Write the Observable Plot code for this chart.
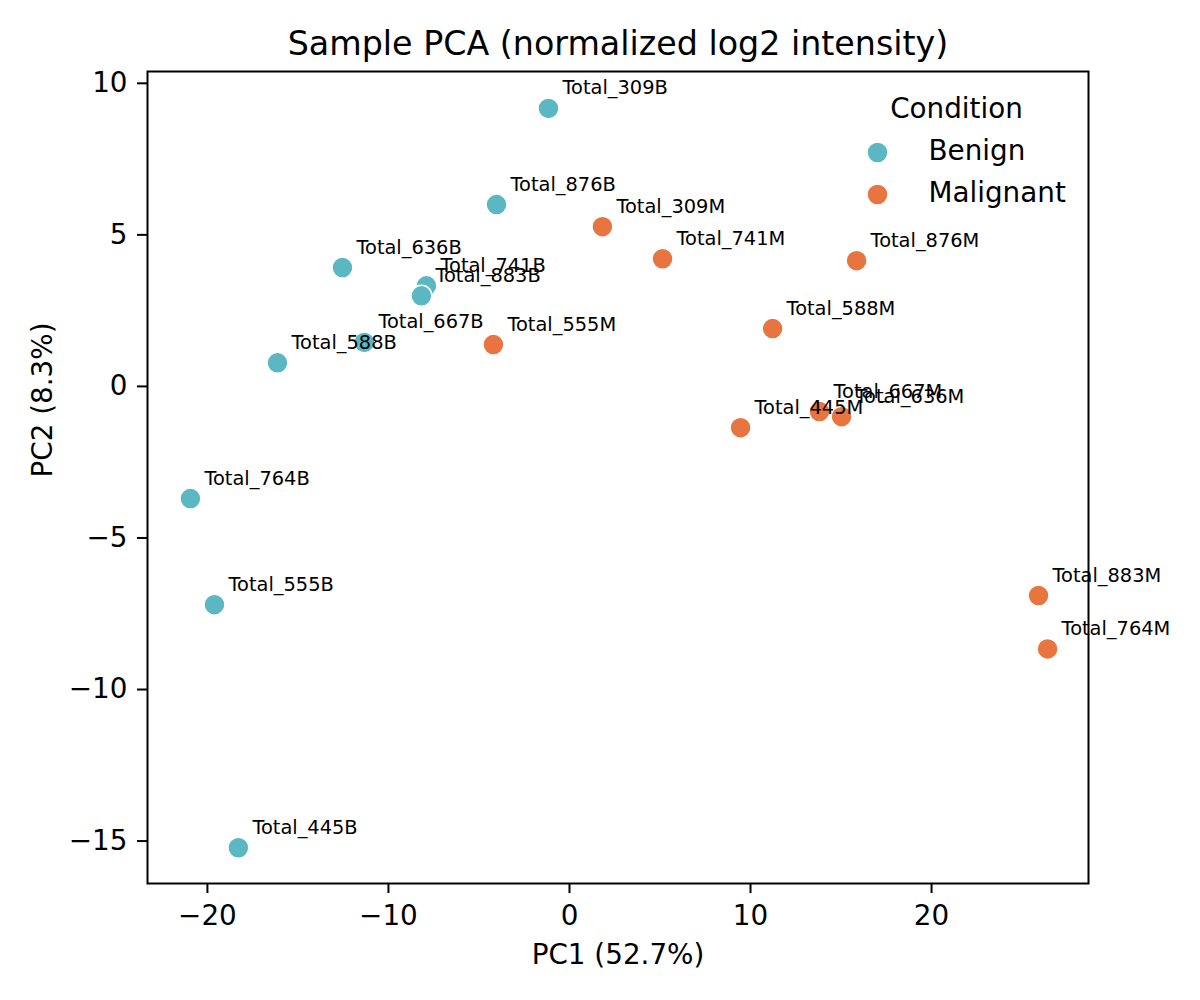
<!DOCTYPE html>
<html>
<head>
<meta charset="utf-8">
<script src="https://cdn.jsdelivr.net/npm/d3@7"></script>
<script src="https://cdn.jsdelivr.net/npm/@observablehq/plot@0.6"></script>
<style>
  html, body { margin: 0; padding: 0; background: #fff; }
  #chart svg { display: block; }
</style>
</head>
<body>
<div id="chart"></div>
<script>
// ---- data ----
const benignSamples = ["Total_309B","Total_445B","Total_555B","Total_588B","Total_636B","Total_667B","Total_741B","Total_764B","Total_876B","Total_883B"];
const benignPC1 = [-1.16, -18.29, -19.61, -16.13, -12.54, -11.33, -7.90, -20.94, -4.03, -8.18];
const benignPC2 = [9.17, -15.22, -7.20, 0.78, 3.92, 1.45, 3.32, -3.70, 6.00, 2.99];

const malignantSamples = ["Total_309M","Total_445M","Total_555M","Total_588M","Total_636M","Total_667M","Total_741M","Total_764M","Total_876M","Total_883M"];
const malignantPC1 = [1.82, 9.45, -4.20, 11.22, 15.03, 13.81, 5.14, 26.41, 15.86, 25.91];
const malignantPC2 = [5.27, -1.36, 1.38, 1.91, -1.00, -0.83, 4.21, -8.66, 4.15, -6.90];

const conditions = ["Benign", "Malignant"];
const conditionColors = ["#5bb8c2", "#e8743f"];
const xTicks = [-20, -10, 0, 10, 20];
const yTicks = [-15, -10, -5, 0, 5, 10];

const titleText = "Sample PCA (normalized log2 intensity)";
const xLabel = "PC1 (52.7%)";
const yLabel = "PC2 (8.3%)";
const legendTitle = "Condition";

// ---- build table ----
const rows = [];
benignSamples.forEach((s, i) => rows.push({sample: s, pc1: benignPC1[i], pc2: benignPC2[i], condition: "Benign"}));
malignantSamples.forEach((s, i) => rows.push({sample: s, pc1: malignantPC1[i], pc2: malignantPC2[i], condition: "Malignant"}));

const fmt = d => d < 0 ? "\u2212" + Math.abs(d) : String(d);
const FONT = "DejaVu Sans";

// legend entries: one dot + one text mark per condition, stacked by a constant offset
const legendMarks = conditions.flatMap((c, i) => [
  Plot.dot([{condition: c}], {frameAnchor: "top-right", fill: "condition", r: 10.5, stroke: "#fff", strokeWidth: 1.5, dx: -211, dy: 81 + 42 * i}),
  Plot.text([c], {frameAnchor: "top-right", text: d => d, dx: -160, dy: 80 + 42 * i, textAnchor: "start", lineAnchor: "middle", fontSize: 27.8, fill: "#000"})
]);

const chart = Plot.plot({
  width: 1200,
  height: 1000,
  marginTop: 71,
  marginLeft: 147,
  marginRight: 112,
  marginBottom: 117,
  style: {fontFamily: FONT, background: "#fff", color: "#000", overflow: "visible"},
  x: {domain: [-23.31, 28.67]},
  y: {domain: [-16.40, 10.39]},
  color: {domain: conditions, range: conditionColors},
  marks: [
    Plot.axisX({ticks: xTicks, tickFormat: fmt, tickSize: 10, tickPadding: 12, fontSize: 27.8, strokeWidth: 2, label: null}),
    Plot.axisY({ticks: yTicks, tickFormat: fmt, tickSize: 10, tickPadding: 10, fontSize: 27.8, strokeWidth: 2, label: null}),
    Plot.dot(rows, {x: "pc1", y: "pc2", fill: "condition", r: 10.5, stroke: "#fff", strokeWidth: 1.5}),
    Plot.text(rows, {x: "pc1", y: "pc2", text: "sample", dx: 14, dy: -14, textAnchor: "start", lineAnchor: "bottom", fontSize: 19.4, fill: "#000"}),
    // legend
    Plot.text([legendTitle], {frameAnchor: "top-right", text: d => d, dx: -132, dy: 38, textAnchor: "middle", lineAnchor: "middle", fontSize: 27.8, fill: "#000"}),
    ...legendMarks,
    Plot.frame({stroke: "#000", strokeWidth: 2}),
    // title & axis labels
    Plot.text([titleText], {frameAnchor: "top", text: d => d, dy: -17, lineAnchor: "bottom", fontSize: 33.3, fill: "#000"}),
    Plot.text([xLabel], {frameAnchor: "bottom", text: d => d, dy: 72, lineAnchor: "middle", fontSize: 27.8, fill: "#000"}),
    Plot.text([yLabel], {frameAnchor: "left", text: d => d, dx: -104, rotate: -90, lineAnchor: "middle", fontSize: 27.8, fill: "#000"})
  ]
});

document.getElementById("chart").appendChild(chart);
</script>
</body>
</html>
